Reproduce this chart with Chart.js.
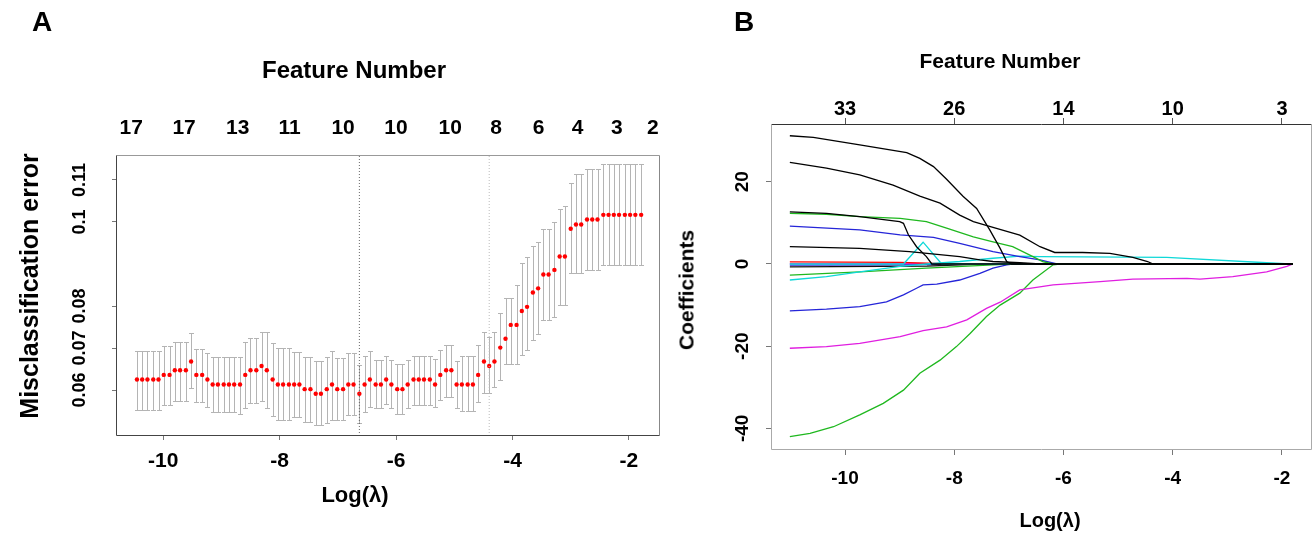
<!DOCTYPE html>
<html><head><meta charset="utf-8">
<script src="https://cdn.jsdelivr.net/npm/chart.js@4.4.1/dist/chart.umd.min.js"></script>
<style>
body{margin:0;background:#fff;width:1315px;height:535px;overflow:hidden;position:relative;font-family:"Liberation Sans",Arial,sans-serif;}
canvas{position:absolute;top:0;}
.t{position:absolute;font-weight:bold;color:#000;white-space:nowrap;line-height:1;transform:translate(-50%,-50%);}
.r{transform:translate(-50%,-50%) rotate(-90deg);}
</style></head><body>
<canvas id="ca" width="662" height="535" style="left:0"></canvas>
<canvas id="cb" width="653" height="535" style="left:662px"></canvas>
<div class="t" style="left:42px;top:22px;font-size:28px">A</div>
<div class="t" style="left:744px;top:22px;font-size:28px">B</div>
<div class="t" style="left:354px;top:70px;font-size:24px">Feature Number</div>
<div class="t" style="left:355px;top:495px;font-size:22px">Log(λ)</div>
<div class="t r" style="left:29px;top:286px;font-size:25px">Misclassification error</div>
<div class="t" style="left:1000px;top:60px;font-size:21px">Feature Number</div>
<div class="t" style="left:1050px;top:520px;font-size:20px">Log(λ)</div>
<div class="t r" style="left:686px;top:290px;font-size:21px">Coefficients</div>
<script>
// ---------- Panel A data ----------
const logLambdaA = [-10.45,-10.36,-10.27,-10.17,-10.08,-9.99,-9.89,-9.80,-9.71,-9.61,
 -9.52,-9.43,-9.33,-9.24,-9.15,-9.06,-8.96,-8.87,-8.78,-8.68,
 -8.59,-8.50,-8.40,-8.31,-8.22,-8.12,-8.03,-7.94,-7.84,-7.75,
 -7.66,-7.57,-7.47,-7.38,-7.29,-7.19,-7.10,-7.01,-6.91,-6.82,
 -6.73,-6.63,-6.54,-6.45,-6.35,-6.26,-6.17,-6.08,-5.98,-5.89,
 -5.80,-5.70,-5.61,-5.52,-5.42,-5.33,-5.24,-5.14,-5.05,-4.96,
 -4.87,-4.77,-4.68,-4.59,-4.49,-4.40,-4.31,-4.21,-4.12,-4.03,
 -3.93,-3.84,-3.75,-3.65,-3.56,-3.47,-3.38,-3.28,-3.19,-3.10,
 -3.00,-2.91,-2.82,-2.72,-2.63,-2.54,-2.44,-2.35,-2.26,-2.17,
 -2.07,-1.98,-1.89,-1.79];
const cvMeanA = [0.0625,0.0625,0.0625,0.0625,0.0625,0.0636,0.0636,0.0647,0.0647,0.0647,
 0.0668,0.0636,0.0636,0.0625,0.0613,0.0613,0.0613,0.0613,0.0613,0.0613,
 0.0636,0.0647,0.0647,0.0657,0.0647,0.0625,0.0613,0.0613,0.0613,0.0613,
 0.0613,0.0602,0.0602,0.0591,0.0591,0.0602,0.0613,0.0602,0.0602,0.0613,
 0.0613,0.0591,0.0613,0.0625,0.0613,0.0613,0.0625,0.0613,0.0602,0.0602,
 0.0613,0.0625,0.0625,0.0625,0.0625,0.0613,0.0636,0.0647,0.0647,0.0613,
 0.0613,0.0613,0.0613,0.0636,0.0668,0.0657,0.0668,0.0701,0.0722,0.0755,
 0.0755,0.0788,0.0798,0.0832,0.0842,0.0875,0.0875,0.0886,0.0918,0.0918,
 0.0984,0.0994,0.0994,0.1006,0.1006,0.1006,0.1017,0.1017,0.1017,0.1017,
 0.1017,0.1017,0.1017,0.1017];
const cvUpperA = [0.0694,0.0694,0.0694,0.0694,0.0694,0.0705,0.0705,0.0715,0.0715,0.0715,
 0.0735,0.0697,0.0697,0.0687,0.0678,0.0678,0.0678,0.0678,0.0678,0.0678,
 0.0715,0.0724,0.0724,0.0737,0.0737,0.0711,0.0699,0.0699,0.0699,0.0690,
 0.0690,0.0679,0.0679,0.0668,0.0668,0.0679,0.0693,0.0677,0.0677,0.0687,
 0.0687,0.0659,0.0680,0.0693,0.0671,0.0671,0.0682,0.0671,0.0661,0.0661,
 0.0671,0.0681,0.0681,0.0681,0.0681,0.0673,0.0695,0.0707,0.0707,0.0668,
 0.0681,0.0681,0.0681,0.0707,0.0739,0.0727,0.0739,0.0783,0.0820,0.0820,
 0.0850,0.0903,0.0916,0.0943,0.0953,0.0983,0.0983,0.0999,0.1030,0.1038,
 0.1094,0.1114,0.1114,0.1125,0.1125,0.1125,0.1137,0.1137,0.1137,0.1137,
 0.1137,0.1137,0.1137,0.1137];
const cvLowerA = [0.0552,0.0552,0.0552,0.0552,0.0552,0.0564,0.0564,0.0575,0.0575,0.0575,
 0.0604,0.0572,0.0572,0.0560,0.0548,0.0548,0.0548,0.0548,0.0548,0.0542,
 0.0556,0.0568,0.0568,0.0575,0.0556,0.0537,0.0529,0.0529,0.0529,0.0535,
 0.0535,0.0525,0.0525,0.0517,0.0517,0.0521,0.0529,0.0529,0.0529,0.0540,
 0.0540,0.0522,0.0547,0.0560,0.0556,0.0556,0.0566,0.0556,0.0544,0.0544,
 0.0556,0.0564,0.0564,0.0564,0.0564,0.0560,0.0576,0.0584,0.0584,0.0556,
 0.0551,0.0551,0.0551,0.0572,0.0594,0.0594,0.0608,0.0624,0.0661,0.0661,
 0.0661,0.0683,0.0695,0.0719,0.0733,0.0767,0.0767,0.0775,0.0802,0.0802,
 0.0878,0.0878,0.0878,0.0886,0.0886,0.0886,0.0898,0.0898,0.0898,0.0898,
 0.0898,0.0898,0.0898,0.0898];
const refLinesA = [-6.63, -4.40];
const xTicksA = [-10, -8, -6, -4, -2];
const yTicksA = [0.06, 0.07, 0.08, 0.10, 0.11];
const yTickLabelsA = ['0.06', '0.07', '0.08', '0.1', '0.11'];
const featurePosA = [-10.55,-9.64,-8.72,-7.83,-6.91,-6.00,-5.07,-4.28,-3.55,-2.88,-2.21,-1.59];
const featureNumA = [17, 17, 13, 11, 10, 10, 10, 8, 6, 4, 3, 2];
const xRangeA = [-10.81, -1.47];
const yRangeA = [0.04905, 0.11595];

// ---------- Panel B data ----------
const xTicksB = [-10, -8, -6, -4, -2];
const featureNumB = [33, 26, 14, 10, 3];
const yTicksB = [-40, -20, 0, 20];
const xRangeB = [-11.355, -1.45];
const yRangeB = [-45.26, 34.06];
const pathsB = [
 {color:'#000000', x:[-11.01,-10.58,-9.73,-8.87,-8.63,-8.38,-8.14,-7.84,-7.59,-7.35,-7.16,-7.04,-6.95,-1.80],
  y:[31.2,30.8,29.0,27.1,25.7,23.7,20.6,16.5,13.5,8.3,3.8,0.6,0,0]},
 {color:'#000000', x:[-11.01,-10.34,-9.73,-9.12,-8.63,-8.26,-7.90,-7.65,-7.29,-6.80,-6.43,-6.16,-5.65,-5.15,-4.73,-4.46,-4.36,-1.80],
  y:[24.7,23.3,21.7,19.2,16.5,14.8,11.9,10.3,8.9,7.0,4.2,2.8,2.8,2.6,1.6,0.6,0,0]},
 {color:'#000000', x:[-11.01,-10.34,-9.73,-9.00,-8.93,-8.84,-8.69,-8.51,-8.41,-1.80],
  y:[12.7,12.3,11.5,10.3,9.9,7.1,4.2,1.8,0,0]},
 {color:'#1fb81f', x:[-11.01,-10.34,-9.73,-8.99,-8.51,-8.14,-7.65,-7.29,-6.93,-6.56,-6.38,-6.19,-1.80],
  y:[12.3,12.1,11.5,11.1,10.3,8.7,6.6,5.4,4.2,1.8,0.6,0,0]},
 {color:'#2525d8', x:[-11.01,-9.73,-8.99,-8.38,-7.90,-7.29,-6.80,-6.43,-6.12,-1.80],
  y:[9.2,8.3,7.1,6.5,5.0,3.0,1.8,1.0,0,0]},
 {color:'#000000', x:[-11.01,-9.73,-8.82,-7.90,-7.53,-7.29,-6.80,-6.43,-1.80],
  y:[4.2,3.8,3.0,1.8,1.0,0.6,0.3,0,0]},
 {color:'#10d8d8', x:[-11.01,-10.34,-9.73,-8.99,-8.51,-7.90,-7.29,-6.80,-6.43,-4.11,-2.28,-1.86],
  y:[-3.9,-3.1,-1.9,-0.6,0,0.6,1.4,1.9,1.8,1.6,0.3,0]},
 {color:'#10d8d8', x:[-11.01,-8.93,-8.57,-8.23,-1.80],
  y:[0,0,5.3,0,0]},
 {color:'#1fb81f', x:[-11.01,-9.73,-8.51,-7.29,-6.98,-1.80],
  y:[-2.7,-1.9,-1.0,-0.2,0,0]},
 {color:'#2525d8', x:[-11.01,-10.34,-9.73,-9.24,-8.93,-8.69,-8.57,-8.32,-7.90,-7.53,-7.29,-7.04,-6.93,-1.80],
  y:[-11.4,-11.0,-10.4,-9.2,-7.5,-5.9,-5.1,-4.9,-3.9,-2.3,-1.0,-0.2,0,0]},
 {color:'#e01ee0', x:[-11.01,-10.34,-9.73,-8.99,-8.57,-8.14,-7.77,-7.41,-7.16,-6.80,-6.19,-5.33,-4.73,-3.74,-3.50,-2.90,-2.28,-1.91,-1.80],
  y:[-20.5,-20.1,-19.3,-17.7,-16.2,-15.3,-13.6,-10.8,-9.3,-6.3,-5.1,-4.3,-3.7,-3.5,-3.7,-3.1,-1.9,-0.6,0]},
 {color:'#1fb81f', x:[-11.01,-10.64,-10.21,-9.73,-9.30,-8.93,-8.63,-8.26,-7.96,-7.71,-7.41,-7.16,-6.80,-6.56,-6.19,-6.07,-1.80],
  y:[-42.0,-41.2,-39.6,-36.7,-33.9,-30.7,-26.6,-23.4,-20.1,-16.9,-12.8,-10.0,-7.1,-3.9,-0.2,0,0]},
 {color:'#ff0000', x:[-11.01,-9.00,-8.00,-1.80], y:[0.5,0.4,0,0]},
 {color:'#111111', x:[-11.01,-8.50,-7.50,-1.80], y:[-0.7,-0.5,0,0]},
 {color:'#2525d8', x:[-11.01,-8.80,-7.80,-1.80], y:[-0.3,-0.2,0,0]},
 {color:'#e01ee0', x:[-11.01,-1.80], y:[0.1,0]}
];

// ---------- helpers ----------
const FONT = '"Liberation Sans", Arial, sans-serif';
const bold = s => ({family: FONT, size: s, weight: 'bold'});

const frame = {
  id: 'frame',
  afterDatasetsDraw(chart, args, o) {
    const a = chart.chartArea, ctx = chart.ctx;
    const L = Math.round(a.left) + 0.5, R = Math.round(a.right) - 0.5,
          T = Math.round(a.top) + 0.5, B = Math.round(a.bottom) - 0.5;
    ctx.save(); ctx.lineWidth = 1;
    const seg = (c, x1, y1, x2, y2) => { ctx.strokeStyle = c; ctx.beginPath(); ctx.moveTo(x1, y1); ctx.lineTo(x2, y2); ctx.stroke(); };
    seg(o.top, L, T, R, T); seg(o.right, R, T, R, B); seg(o.bottom, L, B, R, B); seg(o.left, L, T, L, B);
    ctx.restore();
  }
};

const errorBars = {
  id: 'errorBars',
  beforeDatasetsDraw(chart) {
    const ctx = chart.ctx, x = chart.scales.x, y = chart.scales.y;
    ctx.save(); ctx.lineWidth = 1; ctx.strokeStyle = '#b4b4b4';
    for (let i = 0; i < logLambdaA.length; i++) {
      const px = Math.round(x.getPixelForValue(logLambdaA[i])) + 0.5;
      const pu = Math.round(y.getPixelForValue(cvUpperA[i])) + 0.5;
      const pl = Math.round(y.getPixelForValue(cvLowerA[i])) + 0.5;
      ctx.beginPath();
      ctx.moveTo(px, pu); ctx.lineTo(px, pl);
      ctx.moveTo(px - 2.5, pu); ctx.lineTo(px + 2.5, pu);
      ctx.moveTo(px - 2.5, pl); ctx.lineTo(px + 2.5, pl);
      ctx.stroke();
    }
    ctx.restore();
  }
};

const setTicks = vals => s => { s.ticks = vals.map(v => ({value: v})); };
const fitH = h => s => { s.height = h; s.paddingLeft = 0; s.paddingRight = 0; };
const fitW = w => s => { s.width = w; s.paddingTop = 0; s.paddingBottom = 0; };

// ---------- Chart A ----------
new Chart(document.getElementById('ca'), {
  type: 'scatter',
  data: {
    datasets: [
      {data: [{x: refLinesA[0], y: yRangeA[0]}, {x: refLinesA[0], y: yRangeA[1]}], showLine: true,
       borderColor: '#666', borderWidth: 1, borderDash: [1, 2], pointRadius: 0},
      {data: [{x: refLinesA[1], y: yRangeA[0]}, {x: refLinesA[1], y: yRangeA[1]}], showLine: true,
       borderColor: '#bbb', borderWidth: 1, borderDash: [1, 2], pointRadius: 0},
      {data: logLambdaA.map((v, i) => ({x: v, y: cvMeanA[i]})), pointRadius: 2.2,
       backgroundColor: '#ff0000', borderWidth: 0, pointHoverRadius: 2.2}
    ]
  },
  options: {
    responsive: false, animation: false, devicePixelRatio: 1,
    layout: {padding: {right: 2, left: 0, top: 0, bottom: 0}},
    plugins: {legend: {display: false}, tooltip: {enabled: false},
      frame: {top: '#999', right: '#888', bottom: '#444', left: '#444'}},
    scales: {
      x: {type: 'linear', position: 'bottom', min: xRangeA[0], max: xRangeA[1],
        afterBuildTicks: setTicks(xTicksA), afterFit: fitH(99),
        ticks: {font: bold(21), color: '#000', padding: 9, maxRotation: 0, callback: v => String(v)},
        grid: {drawOnChartArea: false, drawTicks: true, tickLength: 4, color: '#777'}, border: {display: false}},
      x2: {type: 'linear', position: 'top', min: xRangeA[0], max: xRangeA[1],
        afterBuildTicks: setTicks(featurePosA), afterFit: fitH(155),
        ticks: {font: bold(21), color: '#000', padding: 14, maxRotation: 0, autoSkip: false,
          callback: (v, i) => String(featureNumA[i])},
        grid: {display: false, drawTicks: false}, border: {display: false}},
      y: {type: 'linear', position: 'left', min: yRangeA[0], max: yRangeA[1],
        afterBuildTicks: setTicks(yTicksA), afterFit: fitW(116),
        ticks: {font: bold(18), color: '#000', padding: 14, minRotation: 90, maxRotation: 90,
          crossAlign: 'center', autoSkip: false, callback: (v, i) => yTickLabelsA[i]},
        grid: {drawOnChartArea: false, tickLength: 4, color: '#777'}, border: {display: false}}
    }
  },
  plugins: [errorBars, frame]
});

// ---------- Chart B ----------
new Chart(document.getElementById('cb'), {
  type: 'scatter',
  data: {
    datasets: pathsB.map(p => ({
      data: p.x.map((v, i) => ({x: v, y: p.y[i]})), showLine: true, borderColor: p.color,
      borderWidth: 1.3, pointRadius: 0, tension: 0
    }))
  },
  options: {
    responsive: false, animation: false, devicePixelRatio: 1,
    layout: {padding: {right: 3, left: 0, top: 0, bottom: 0}},
    plugins: {legend: {display: false}, tooltip: {enabled: false},
      frame: {top: '#333', right: '#aaa', bottom: '#aaa', left: '#aaa'}},
    scales: {
      x: {type: 'linear', position: 'bottom', min: xRangeB[0], max: xRangeB[1],
        afterBuildTicks: setTicks(xTicksB), afterFit: fitH(85),
        ticks: {font: bold(19), color: '#000', padding: 12, maxRotation: 0, callback: v => String(v)},
        grid: {drawOnChartArea: false, tickLength: 5, color: '#777'}, border: {display: false}},
      x2: {type: 'linear', position: 'top', min: xRangeB[0], max: xRangeB[1],
        afterBuildTicks: setTicks(xTicksB), afterFit: fitH(124),
        ticks: {font: bold(20), color: '#000', padding: -3, maxRotation: 0,
          callback: (v, i) => String(featureNumB[i])},
        grid: {drawOnChartArea: false, tickLength: 6, color: '#555'}, border: {display: false}},
      y: {type: 'linear', position: 'left', min: yRangeB[0], max: yRangeB[1],
        afterBuildTicks: setTicks(yTicksB), afterFit: fitW(109),
        ticks: {font: bold(19), color: '#000', padding: 10, minRotation: 90, maxRotation: 90,
          crossAlign: 'center', callback: v => String(v)},
        grid: {drawOnChartArea: false, tickLength: 5, color: '#777'}, border: {display: false}}
    }
  },
  plugins: [frame]
});
</script>
</body></html>
